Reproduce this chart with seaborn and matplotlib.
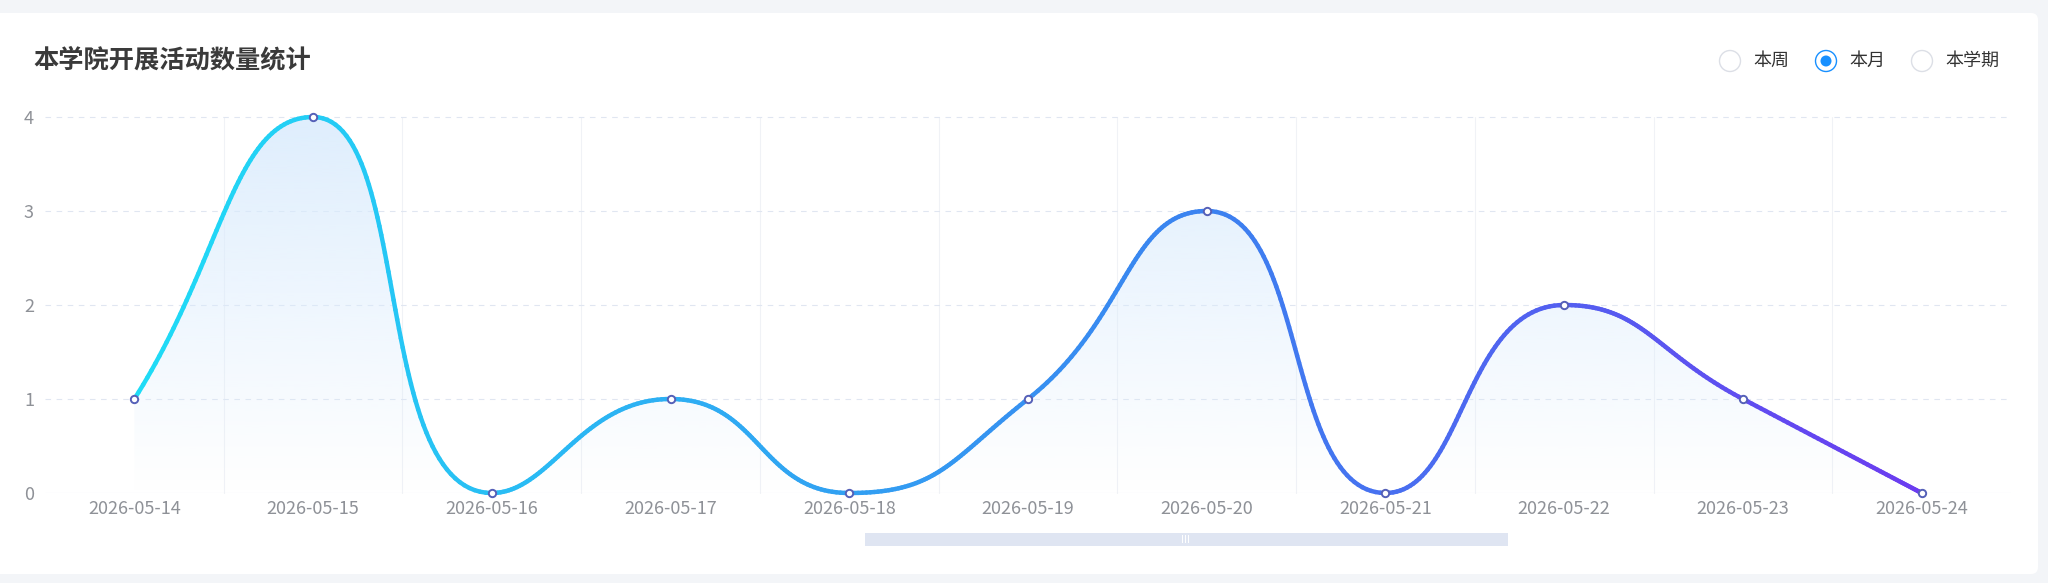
import numpy as np
import seaborn as sns
import matplotlib.pyplot as plt
from matplotlib.collections import LineCollection
from matplotlib.colors import LinearSegmentedColormap, to_rgb
from matplotlib.patches import FancyBboxPatch, Rectangle, Circle, Polygon

# data
dates = ['2026-05-14', '2026-05-15', '2026-05-16', '2026-05-17', '2026-05-18', '2026-05-19',
         '2026-05-20', '2026-05-21', '2026-05-22', '2026-05-23', '2026-05-24']
counts = [1, 4, 0, 1, 0, 1, 3, 0, 2, 1, 0]
y_ticks = [0, 1, 2, 3, 4]
title = '本学院开展活动数量统计'
periods = ['本周', '本月', '本学期']
selected = '本月'

W, H, DPI = 2048, 583, 100

sns.set_theme(style='white')
plt.rcParams['font.family'] = ['Noto Sans CJK SC', 'DejaVu Sans']

fig = plt.figure(figsize=(W / DPI, H / DPI), dpi=DPI, facecolor='#f3f5f8')
inch = fig.dpi_scale_trans

# white card
card = FancyBboxPatch((-0.2, 0.09), 20.58, 5.61, boxstyle='round,pad=0,rounding_size=0.07',
                      transform=inch, facecolor='white', edgecolor='none', zorder=0)
fig.add_artist(card)

ax = fig.add_axes([45 / W, (H - 493) / H, (2011 - 45) / W, (493 - 117) / H])
ax.set_facecolor('none')
ax.set_xlim(-0.5, len(dates) - 0.5)
ax.set_ylim(0, 4)
for s in ax.spines.values():
    s.set_visible(False)

# grid lines
for y in y_ticks[1:]:
    ax.axhline(y, color='#e0e6f1', lw=0.8, ls=(0, (5, 5)), zorder=1, clip_on=False)
ax.axhline(0, color='#e0e6f1', lw=0.8, zorder=1)
for k in range(1, len(dates)):
    ax.plot([k - 0.5, k - 0.5], [0, 4], color='#f0f2f6', lw=0.8, zorder=0.5, clip_on=False)

ax.set_xticks(range(len(dates)), dates)
ax.set_yticks(y_ticks)
ax.tick_params(axis='x', length=0, pad=5, labelsize=13, labelcolor='#8e9197')
ax.tick_params(axis='y', length=0, pad=8, labelsize=13, labelcolor='#8e9197')


# smooth curve like echarts (flat tangents at local extremes)
def smooth_curve(xs, ys, smooth=0.5, n=60):
    p = ax.transData.transform(np.column_stack([xs, ys]))
    m = len(p)
    cin = p.copy()
    cout = p.copy()
    cout[0] = p[0] + (p[1] - p[0]) * smooth
    for i in range(1, m - 1):
        d0 = p[i] - p[i - 1]
        d1 = p[i + 1] - p[i]
        if d0[1] * d1[1] <= 0:
            v = np.array([p[i + 1][0] - p[i - 1][0], 0.0])
        else:
            v = p[i + 1] - p[i - 1]
        l0, l1 = np.hypot(*d0), np.hypot(*d1)
        r = l1 / (l0 + l1)
        cin[i] = p[i] - v * smooth * (1 - r)
        cout[i] = p[i] + v * smooth * r
    t = np.linspace(0, 1, n)[:, None]
    pts = []
    for i in range(m - 1):
        b = ((1 - t) ** 3 * p[i] + 3 * (1 - t) ** 2 * t * cout[i]
             + 3 * (1 - t) * t ** 2 * cin[i + 1] + t ** 3 * p[i + 1])
        pts.append(b if i == 0 else b[1:])
    pts = np.vstack(pts)
    return ax.transData.inverted().transform(pts)


xs = np.arange(len(counts))
curve = smooth_curve(xs, counts)

# area gradient
poly = Polygon(np.vstack([curve, [[xs[-1], 0], [xs[0], 0]]]), closed=True,
               facecolor='none', edgecolor='none')
ax.add_patch(poly)
grad = np.zeros((256, 1, 4))
grad[..., :3] = to_rgb('#d9ebfd')
grad[:, 0, 3] = np.linspace(0.0, 0.85, 256)
im = ax.imshow(grad, extent=[xs[0], xs[-1], 0, 4], origin='lower', aspect='auto', zorder=2)
im.set_clip_path(poly)

# gradient line
cmap = LinearSegmentedColormap.from_list('lc', [(0, '#1fdcf6'), (0.6, '#3b82f0'), (1, '#6b3cf0')])
segs = np.stack([curve[:-1], curve[1:]], axis=1)
mid = (segs[:, 0, 0] + segs[:, 1, 0]) / 2
lc = LineCollection(segs, colors=cmap((mid - xs[0]) / (xs[-1] - xs[0])), linewidths=3.2,
                    capstyle='round', joinstyle='round', zorder=3, clip_on=False)
ax.add_collection(lc)

sns.scatterplot(x=xs, y=counts, ax=ax, s=28, color='white', edgecolor='#5560b8',
                linewidth=1.4, zorder=5, clip_on=False, legend=False)
ax.set_xlabel('')
ax.set_ylabel('')

# title
fig.text(33 / W, 1 - 60 / H, title, fontsize=18.2, fontweight='bold', color='#3a3a3a',
         ha='left', va='center')

# radio buttons
radio_x = [17.30, 18.26, 19.22]
ry = (H - 61) / DPI
for name, cx in zip(periods, radio_x):
    on = name == selected
    fig.add_artist(Circle((cx, ry), 0.105, transform=inch, facecolor='white',
                          edgecolor='#1890ff' if on else '#dcdfe6', lw=1.0))
    if on:
        fig.add_artist(Circle((cx, ry), 0.055, transform=inch, facecolor='#1890ff',
                              edgecolor='none'))
    fig.text(cx + 0.235, ry, name, transform=inch, fontsize=13, color='#333333',
             ha='left', va='center')

# data zoom slider
fig.add_artist(Rectangle((8.65, (H - 546) / DPI), 6.43, 0.13, transform=inch,
                         facecolor='#dfe5f2', edgecolor='none'))
fig.text(11.86, (H - 540) / DPI, 'III', transform=inch, fontsize=7.5, color='#ffffff',
         ha='center', va='center', family='DejaVu Sans')

fig.savefig('out.png', dpi=DPI, facecolor=fig.get_facecolor())
